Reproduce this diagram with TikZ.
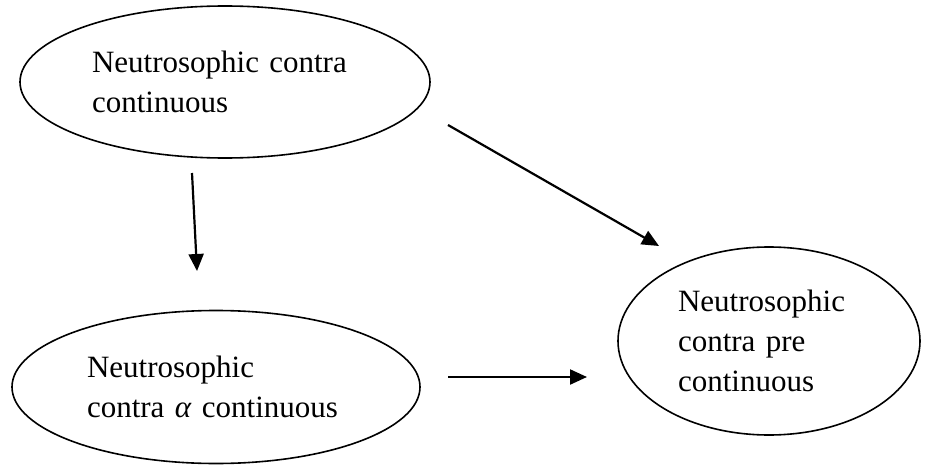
\documentclass[tikz,border=0pt]{standalone}
\usepackage{fontspec}
\setmainfont{Liberation Serif}
\usetikzlibrary{shapes.geometric,arrows.meta,positioning}

\begin{document}
\begin{tikzpicture}[x=1pt,y=-1pt,
  bubble/.style={draw, ellipse, line width=1.6pt, inner sep=0pt, align=left,
    font=\fontsize{31pt}{40pt}\selectfont},
  link/.style={line width=2.2pt, -{Triangle[length=17pt,width=15pt]}}]
\useasboundingbox (0,0) rectangle (929,468);

\node (contra)[bubble, minimum width=410pt, minimum height=152pt, text width=266pt] at (225,82) {Neutrosophic contra\\continuous};
\node (alpha) [bubble, minimum width=408pt, minimum height=153pt, text width=258pt] at (216,387) {Neutrosophic\\contra \textit{α} continuous};
\node (pre)   [bubble, minimum width=302pt, minimum height=188pt, text width=182pt] at (769,341) {Neutrosophic\\contra pre\\continuous};

\coordinate (downtop) at (192,173);
\coordinate (downtip) at (197,271);
\coordinate (diagtop) at (448,125);
\coordinate (diagtip) at (659,246);
\coordinate (flatleft) at (448,377);
\coordinate (flattip) at (587,377);

\draw [link](downtop)--(downtip);
\draw [link](diagtop)--(diagtip);
\draw [link](flatleft)--(flattip);
\end{tikzpicture}
\end{document}
